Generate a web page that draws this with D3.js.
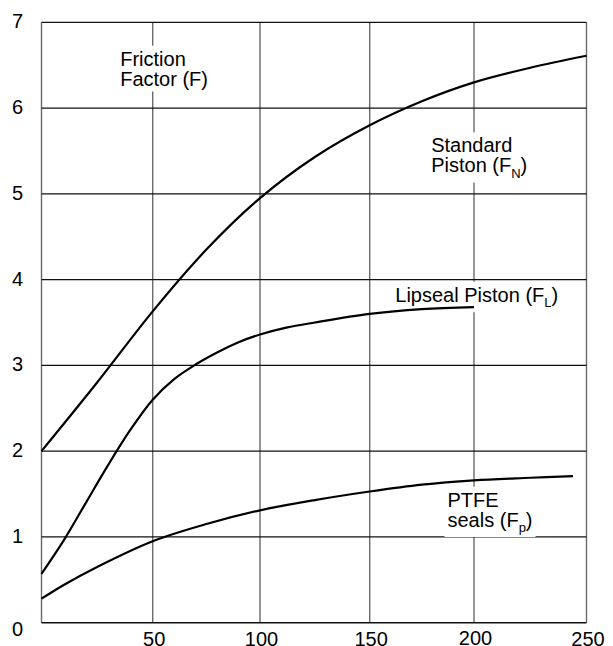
<!DOCTYPE html>
<html>
<head>
<meta charset="utf-8">
<script src="https://cdn.jsdelivr.net/npm/d3@7"></script>
<style>
  html, body { margin: 0; padding: 0; background: #fff; }
  svg { display: block; font-family: "Liberation Sans", Arial, sans-serif; }
</style>
</head>
<body>
<svg id="chart" width="613" height="646"></svg>
<script>
// ---- data ----
const xTicks = [50, 100, 150, 200, 250];
const xTickLabels = ["50", "100", "150", "200", "250"];
const yTicks = [0, 1, 2, 3, 4, 5, 6, 7];
const yTickLabels = ["0", "1", "2", "3", "4", "5", "6", "7"];

const standardX = [0, 25, 50, 75, 100, 125, 150, 175, 200, 225, 250];
const standardF = [2.0, 2.80, 3.63, 4.35, 4.95, 5.43, 5.80, 6.08, 6.30, 6.47, 6.61];

const lipsealX = [0, 10, 20, 30, 40, 50, 60, 70, 80, 90, 100, 112, 125, 150, 175, 200];
const lipsealF = [0.57, 0.96, 1.40, 1.84, 2.25, 2.60, 2.84, 3.01, 3.15, 3.27, 3.36, 3.44, 3.50, 3.60, 3.655, 3.68];

const ptfeX = [0, 10, 25, 50, 75, 100, 125, 150, 175, 200, 225, 244];
const ptfeF = [0.28, 0.44, 0.65, 0.95, 1.15, 1.31, 1.43, 1.53, 1.61, 1.66, 1.69, 1.71];

// ---- layout ----
const svg = d3.select("#chart");
const x = d3.scaleLinear()
  .domain([0, 50, 100, 150, 200, 250])
  .range([41.5, 152.7, 260, 369.7, 474, 586.5]);
const y = d3.scaleLinear().domain([0, 7]).range([622.7, 22.3]);

const gridLayer = svg.append("g");
const bgLayer = svg.append("g");
const curveLayer = svg.append("g");
const textLayer = svg.append("g");

// vertical gridlines (grey)
gridLayer.append("g").selectAll("line")
  .data([0].concat(xTicks))
  .join("line")
  .attr("x1", d => x(d)).attr("x2", d => x(d))
  .attr("y1", y(7)).attr("y2", y(0))
  .attr("stroke", "#6a6a6a").attr("stroke-width", 1.4);

// horizontal gridlines (black)
gridLayer.append("g").selectAll("line")
  .data(yTicks)
  .join("line")
  .attr("x1", x(0)).attr("x2", x(250))
  .attr("y1", d => y(d)).attr("y2", d => y(d))
  .attr("stroke", "#111").attr("stroke-width", d => d === 0 ? 1.6 : 1.2);

// curves
const line = d3.line()
  .x(d => x(d[0])).y(d => y(d[1]))
  .curve(d3.curveCatmullRom.alpha(0.5));
const series = [
  d3.zip(standardX, standardF),
  d3.zip(lipsealX, lipsealF),
  d3.zip(ptfeX, ptfeF)
];
curveLayer.selectAll("path")
  .data(series)
  .join("path")
  .attr("d", line)
  .attr("fill", "none")
  .attr("stroke", "#000")
  .attr("stroke-width", 2.2);

// tick labels
textLayer.append("g").selectAll("text")
  .data(yTicks)
  .join("text")
  .attr("x", 17.5)
  .attr("y", d => d === 0 ? 636 : y(d) + 6)
  .attr("text-anchor", "middle")
  .attr("font-size", 20)
  .attr("fill", "#000")
  .text((d, i) => yTickLabels[i]);

textLayer.append("g").selectAll("text")
  .data(xTicks)
  .join("text")
  .attr("x", d => x(d) + 1.5)
  .attr("y", d => d === 200 ? 644.5 : 645.8)
  .attr("text-anchor", "middle")
  .attr("font-size", 20)
  .attr("fill", "#000")
  .text((d, i) => xTickLabels[i]);

// annotation labels with white background behind (gridlines interrupted)
function label(px, py, lines) {
  const bg = bgLayer.append("rect").attr("fill", "#fff");
  const t = textLayer.append("text").attr("font-size", 20).attr("fill", "#000");
  lines.forEach((ln, i) => {
    const base = py + i * 19.8;
    let first = true;
    ln.forEach(p => {
      const ts = t.append("tspan");
      if (first) { ts.attr("x", px).attr("y", base); first = false; }
      if (p.sub) {
        ts.attr("font-size", 13).attr("dy", 5.5).text(p.t);
      } else if (p.after) {
        ts.attr("dy", -5.5).text(p.t);
      } else {
        ts.text(p.t);
      }
    });
  });
  const bb = t.node().getBBox();
  bg.attr("x", bb.x - 3).attr("y", bb.y - 2)
    .attr("width", bb.width + 6).attr("height", bb.height + 4);
}

label(120.2, 65.7, [[{t: "Friction"}], [{t: "Factor (F)"}]]);
label(431.2, 152.3, [[{t: "Standard"}], [{t: "Piston (F"}, {t: "N", sub: true}, {t: ")", after: true}]]);
label(395.3, 301.7, [[{t: "Lipseal Piston (F"}, {t: "L", sub: true}, {t: ")", after: true}]]);
label(447.5, 506.7, [[{t: "PTFE"}], [{t: "seals (F"}, {t: "p", sub: true}, {t: ")", after: true}]]);
</script>
</body>
</html>
